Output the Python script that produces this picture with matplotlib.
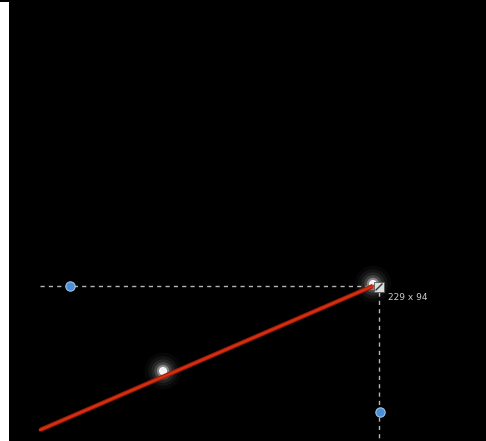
import matplotlib
matplotlib.use("Agg")
import matplotlib.pyplot as plt
from matplotlib.patches import Rectangle

# Canvas size in pixels
width_px = 486
height_px = 441

# Drawn line (start, end)
line_x = [40, 373]
line_y = [430, 286]

# Guide lines
guide_h_x = [40, 373]
guide_h_y = [286, 286]
guide_v_x = [379, 379]
guide_v_y = [292, 441]

# Handle dots
handle_x = [70, 380]
handle_y = [286, 412]

# Glow points
glow_x = [163, 373]
glow_y = [371, 284]

size_label = "229 x 94"

fig = plt.figure(figsize=(width_px / 100, height_px / 100), dpi=100)
fig.patch.set_facecolor("black")
ax = fig.add_axes([0, 0, 1, 1])
ax.set_xlim(0, width_px)
ax.set_ylim(height_px, 0)
ax.axis("off")

# white strip on the left edge
ax.add_patch(Rectangle((0, 2), 9, height_px - 2, facecolor="white", edgecolor="none"))

# guides
ax.plot(guide_h_x, guide_h_y, color="#b5b5b5", linewidth=1, linestyle=(0, (3, 3)))
ax.plot(guide_v_x, guide_v_y, color="#b5b5b5", linewidth=1, linestyle=(0, (3, 3)))

# soft glow behind points
for gx, gy in zip(glow_x, glow_y):
    for s, a in [(700, 0.03), (450, 0.05), (280, 0.08), (160, 0.15), (80, 0.35), (35, 0.9)]:
        ax.scatter([gx], [gy], s=s, color="white", alpha=a, edgecolors="none", zorder=3)

# red line
ax.plot(line_x, line_y, color="#9e1a08", linewidth=3.2, solid_capstyle="butt", zorder=4)
ax.plot(line_x, line_y, color="#d6300f", linewidth=1.6, zorder=4)

# resize icon
ax.add_patch(Rectangle((374, 282), 10, 10, facecolor="#dddddd", edgecolor="#555555", linewidth=0.6, zorder=5))
ax.plot([376, 382], [290, 284], color="#333333", linewidth=1, zorder=6)

# handles
ax.scatter(handle_x, handle_y, s=45, color="#4a8fd6", edgecolors="#9cc4ef", linewidths=0.8, zorder=5)

ax.text(388, 297, size_label, color="#cccccc", fontsize=6.5, va="center", ha="left")

fig.savefig("out.png", dpi=100, facecolor=fig.get_facecolor())
